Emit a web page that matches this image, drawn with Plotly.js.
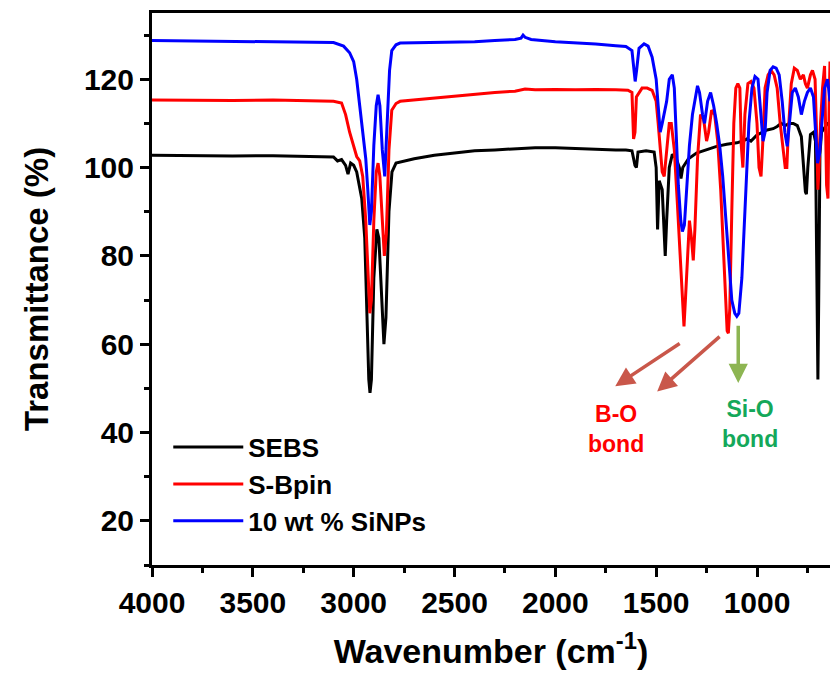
<!DOCTYPE html>
<html>
<head>
<meta charset="utf-8">
<script src="https://cdn.plot.ly/plotly-3.0.1.min.js"></script>
<style>html,body{margin:0;padding:0;background:#fff;}#chart{width:830px;height:679px;}</style>
</head>
<body>
<div id="chart"></div>
<script>
// ---- data ----
const seriesNames = ["SEBS", "S-Bpin", "10 wt % SiNPs"];

const sebsWn = [4000,3800,3600,3400,3200,3100,3080,3060,3040,3028,3015,3000,2985,2960,2945,2935,2925,2919,2912,2900,2885,2875,2862,2850,2840,2825,2810,2790,2700,2600,2500,2400,2300,2200,2100,2000,1900,1800,1700,1650,1620,1605,1598,1590,1550,1510,1500,1493,1485,1470,1460,1455,1448,1435,1420,1400,1385,1377,1368,1340,1300,1250,1200,1150,1100,1070,1050,1030,1000,950,920,900,880,860,840,820,800,780,770,760,755,748,735,720,710,703,698,694,688,680,665,650,638];
const sebsT  = [102.8,102.7,102.6,102.7,102.5,102.4,101.5,101.8,100.5,98.5,101,100.5,99,93,84,70,52,49,52,75,86,84,72,60,66,90,99,101,102,102.8,103.3,103.8,104,104.3,104.5,104.5,104.3,104.2,104,104,103.8,100.5,100,103.5,103.8,103.5,100,86,97,95,84,80,88,100,103,102,100,97.5,100,102,103.3,104,104.8,105.3,105.6,106,106.5,106,107.4,108.5,108.8,109.3,110,109.5,110,110,109.5,107,101,94.5,94,100,107.5,108,106,80,52,70,103,108,109,110,110];

const bpinWn = [4000,3800,3600,3400,3200,3100,3060,3040,3020,3000,2985,2970,2955,2940,2930,2920,2912,2900,2888,2879,2870,2858,2848,2838,2825,2811,2790,2770,2700,2600,2500,2400,2300,2200,2150,2100,2000,1900,1800,1700,1640,1620,1612,1605,1598,1570,1545,1520,1500,1490,1480,1470,1460,1450,1435,1425,1410,1395,1380,1370,1362,1355,1345,1335,1325,1316,1308,1295,1280,1265,1250,1240,1225,1210,1195,1180,1165,1155,1148,1142,1135,1125,1115,1105,1095,1085,1078,1070,1060,1045,1030,1015,1000,990,980,972,960,945,930,915,900,885,870,860,852,845,830,815,800,785,770,760,750,735,725,712,703,698,692,685,675,665,655,648,642,638];
const bpinT  = [115.3,115.2,115.2,115.3,115.1,115,114.6,112,108,104.5,102.5,101.5,98,88,76,67,70,88,99,101,98,88,80,85,104,113,114.5,115,115.3,115.8,116.3,116.7,117,117.3,117.8,117.6,117.7,117.6,117.7,117.6,117.5,117,106.5,108,116,118,118,117.5,115,110,104,99,98,103,110,110,104,92,78,68,64,70,80,88,84,79,86,102,112,111,106,108,113,112,106,95,80,70,63,62.5,68,90,110,118,119,118,105,100,112,119,119.5,118,110,100,98,105,118,121,122,121,118,110,103,100,100,108,119,122.5,122,120,121,119,118,121,122,120,105,95,100,110,118,123,96,93,115,124];

const sinpWn = [4000,3800,3600,3400,3200,3100,3050,3020,3000,2985,2970,2955,2940,2930,2920,2912,2900,2888,2879,2870,2858,2846,2835,2822,2811,2790,2770,2600,2400,2300,2200,2170,2160,2150,2120,2000,1900,1800,1700,1650,1620,1610,1604,1597,1585,1560,1540,1520,1500,1490,1480,1470,1460,1448,1435,1420,1410,1400,1390,1378,1370,1360,1348,1335,1320,1305,1295,1285,1270,1260,1245,1230,1215,1200,1185,1170,1155,1140,1125,1110,1100,1090,1075,1060,1050,1040,1025,1010,995,982,970,960,950,935,920,905,890,875,862,850,840,825,810,795,780,765,750,735,720,710,700,690,680,665,650,638];
const sinpT  = [128.8,128.7,128.6,128.5,128.4,128.3,127.5,126,124,120,114,108,102,95,87,90,105,114,116.5,114,104,98,108,122,126.5,127.8,128.2,128.3,128.5,128.8,129,129.3,130,129.5,129,128.5,128.3,128,127.6,127.4,126.5,121,119.5,122,127,128,127.5,125,120,114,108,110,112,115,120,121,118,108,96,88,85.5,87,95,105,112,116,118.5,117,112,110,115,117,114,110,105,98,88,78,70,67,66.3,67,75,90,100,110,118,120.6,120,112,106,108,117,122,122.8,122.5,121,115,108,104.8,110,117,118,116,112,115,117,118,116,108,101,103,110,118,120,115];

const xTickVals = [4000,3500,3000,2500,2000,1500,1000];
const yTickVals = [20,40,60,80,100,120];
const lineColors = ["#000000", "#ff0000", "#0000ff"];

const FONT = "Liberation Sans, Arial, sans-serif";

const traces = [
  {x: sebsWn, y: sebsT, name: seriesNames[0]},
  {x: bpinWn, y: bpinT, name: seriesNames[1]},
  {x: sinpWn, y: sinpT, name: seriesNames[2]}
].map((t, i) => Object.assign(t, {
  type: "scatter", mode: "lines",
  line: {color: lineColors[i], width: 3},
  hoverinfo: "skip"
}));

const layout = {
  width: 830, height: 679,
  margin: {l: 152, r: 0, t: 13, b: 114},
  paper_bgcolor: "#fff", plot_bgcolor: "#fff",
  showlegend: true,
  legend: {
    x: 0.024, y: 0.256, xanchor: "left", yanchor: "top",
    bgcolor: "rgba(0,0,0,0)", borderwidth: 0, itemwidth: 70,
    font: {family: FONT, size: 26, color: "#000", weight: "bold"},
    tracegroupgap: 0
  },
  xaxis: {
    range: [4000, 638], tickvals: xTickVals,
    ticks: "outside", ticklen: 9, tickwidth: 3, tickcolor: "#000",
    minor: {dtick: 250, ticks: "outside", ticklen: 5, tickwidth: 3, tickcolor: "#000", showgrid: false},
    showline: true, linewidth: 3, linecolor: "#000", mirror: true,
    showgrid: false, zeroline: false,
    tickfont: {family: FONT, size: 30, color: "#000", weight: "bold"},
    title: {text: "Wavenumber (cm<sup>-1</sup>)", standoff: 22,
            font: {family: FONT, size: 34, color: "#000", weight: "bold"}}
  },
  yaxis: {
    range: [10, 135], tickvals: yTickVals,
    ticks: "outside", ticklen: 9, tickwidth: 3, tickcolor: "#000",
    minor: {dtick: 10, ticks: "outside", ticklen: 5, tickwidth: 3, tickcolor: "#000", showgrid: false},
    showline: true, linewidth: 3, linecolor: "#000", mirror: false,
    showgrid: false, zeroline: false,
    tickfont: {family: FONT, size: 30, color: "#000", weight: "bold"},
    title: {text: "Transmittance (%)", standoff: 26,
            font: {family: FONT, size: 33, color: "#000", weight: "bold"}}
  },
  annotations: [
    {x: 1703, y: 50.5, ax: 1376, ay: 60.4, xref: "x", yref: "y", axref: "x", ayref: "y",
     text: "", showarrow: true, arrowhead: 2, arrowsize: 1.1, arrowwidth: 3.5, arrowcolor: "#c9574a"},
    {x: 1495, y: 49.3, ax: 1178, ay: 62, xref: "x", yref: "y", axref: "x", ayref: "y",
     text: "", showarrow: true, arrowhead: 2, arrowsize: 1.1, arrowwidth: 3.5, arrowcolor: "#c9574a"},
    {x: 1093, y: 51.2, ax: 1093, ay: 64.5, xref: "x", yref: "y", axref: "x", ayref: "y",
     text: "", showarrow: true, arrowhead: 2, arrowsize: 1.1, arrowwidth: 3.5, arrowcolor: "#8db552"},
    {x: 1698, y: 40.7, xref: "x", yref: "y", showarrow: false,
     text: "B-O<br>bond", align: "center",
     font: {family: FONT, size: 23, color: "#ff0000", weight: "bold"}},
    {x: 1034, y: 41.9, xref: "x", yref: "y", showarrow: false,
     text: "Si-O<br>bond", align: "center",
     font: {family: FONT, size: 23, color: "#14a85a", weight: "bold"}}
  ]
};

Plotly.newPlot("chart", traces, layout, {staticPlot: true, displayModeBar: false});
</script>
</body>
</html>
